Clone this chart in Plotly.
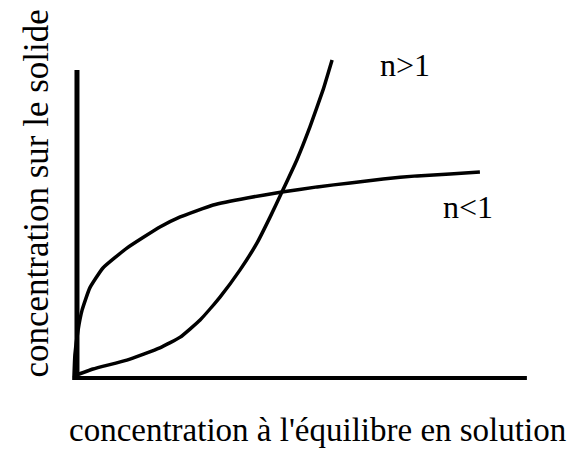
import plotly.graph_objects as go

# Freundlich isotherm sketch (arbitrary units)
x_n_gt_1 = [0.0, 0.42, 1.17, 1.90, 2.35, 2.79, 3.23, 3.67, 4.05, 4.34, 4.60, 4.93, 5.22, 5.51, 5.71]
y_n_gt_1 = [0.0, 0.23, 0.52, 0.92, 1.27, 1.83, 2.58, 3.46, 4.35, 5.20, 6.01, 7.06, 8.14, 9.35, 10.33]

x_n_lt_1 = [0.0, 0.02, 0.09, 0.18, 0.35, 0.64, 1.17, 1.90, 2.35, 3.08, 3.83, 4.60, 5.38, 6.11, 6.84, 7.59, 8.32, 8.98]
y_n_lt_1 = [0.0, 0.69, 1.50, 2.16, 2.88, 3.53, 4.18, 4.87, 5.20, 5.59, 5.82, 6.01, 6.18, 6.31, 6.44, 6.54, 6.60, 6.67]

series_labels = ["n>1", "n<1"]
label_x = [7.32, 8.72]
label_y = [10.16, 5.52]

x_title = "concentration à l'équilibre en solution"
y_title = "concentration sur le solide"

x_axis_end = 10.02
y_axis_end = 10.0

FONT = "Liberation Serif, Times New Roman, serif"

fig = go.Figure()
fig.add_trace(go.Scatter(x=x_n_gt_1, y=y_n_gt_1, mode="lines",
                         line=dict(color="black", width=3.5, shape="spline", smoothing=0.4),
                         name=series_labels[0], showlegend=False, hoverinfo="skip"))
fig.add_trace(go.Scatter(x=x_n_lt_1, y=y_n_lt_1, mode="lines",
                         line=dict(color="black", width=3.5, shape="spline", smoothing=0.4),
                         name=series_labels[1], showlegend=False, hoverinfo="skip"))

# axis lines
fig.add_shape(type="line", xref="x", yref="y", x0=0.066, y0=0.03, x1=0.066, y1=y_axis_end,
              line=dict(color="black", width=5))
fig.add_shape(type="line", xref="x", yref="y", x0=-0.04, y0=-0.065, x1=x_axis_end, y1=-0.065,
              line=dict(color="black", width=4))

for t, lx, ly in zip(series_labels, label_x, label_y):
    fig.add_annotation(x=lx, y=ly, xref="x", yref="y", text=t.replace("<", "&lt;").replace(">", "&gt;"),
                       showarrow=False, font=dict(family=FONT, size=32, color="black"))

W, H = 578, 450
PAGE_OFFSET = 8  # default body margin of the page
L, R, T, B = 50, 30, 40, 50
x0px, y0px = 74 - PAGE_OFFSET, 376 - PAGE_OFFSET
xs, ys = 45.2, 30.6
pw, ph = W - L - R, H - T - B

def px_to_paper(px, py):
    return (px - PAGE_OFFSET - L) / pw, (H - B - (py - PAGE_OFFSET)) / ph

ax, ay = px_to_paper(317, 430)
fig.add_annotation(x=ax, y=ay, xref="paper", yref="paper", xanchor="center", yanchor="middle",
                   text=x_title, showarrow=False, font=dict(family=FONT, size=33, color="black"))
bx, by = px_to_paper(36, 193.5)
fig.add_annotation(x=bx, y=by, xref="paper", yref="paper", xanchor="center", yanchor="middle",
                   text=y_title, showarrow=False, textangle=-90,
                   font=dict(family=FONT, size=35, color="black"))

fig.update_layout(
    width=W, height=H,
    margin=dict(l=L, r=R, t=T, b=B),
    paper_bgcolor="white", plot_bgcolor="white",
    xaxis=dict(range=[(L - x0px) / xs, (W - R - x0px) / xs], visible=False, fixedrange=True),
    yaxis=dict(range=[-(H - B - y0px) / ys, (y0px - T) / ys], visible=False, fixedrange=True),
)

fig.write_html("out.html")
